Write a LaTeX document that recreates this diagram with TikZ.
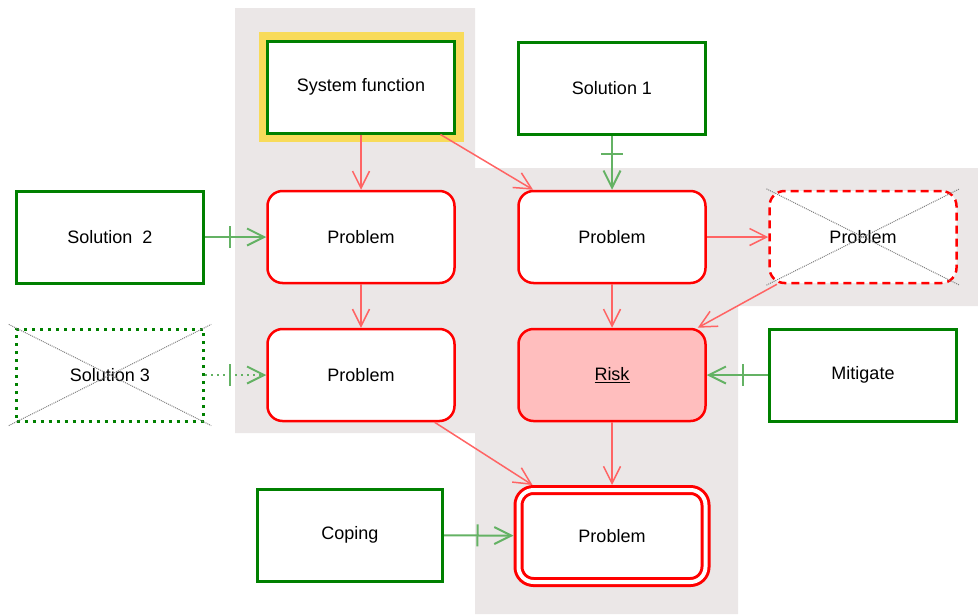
\documentclass[tikz,border=0pt]{standalone}
\usepackage{fontspec}
\setmainfont{Liberation Sans}
\usetikzlibrary{arrows.meta,decorations.markings}
\definecolor{areagray}{RGB}{235,231,231}
\definecolor{hilite}{RGB}{248,219,90}
\definecolor{boxgreen}{RGB}{0,128,0}
\definecolor{linkgreen}{RGB}{100,178,100}
\definecolor{linkred}{RGB}{255,100,100}
\definecolor{riskfill}{RGB}{255,190,190}
\begin{document}
\begin{tikzpicture}[x=1pt, y=-1pt, font=\fontsize{18}{20}\selectfont, >={Straight Barb[length=17pt,width=17pt]},
	solbox/.style={draw=boxgreen, line width=3pt, fill=white, minimum width=187pt, minimum height=92pt},
	probbox/.style={draw=red, line width=2.5pt, fill=white, rounded corners=15pt, minimum width=187pt, minimum height=92pt},
	crossout/.style={draw=gray, densely dotted, line width=1pt, shorten <=-#1, shorten >=-#1},
	redarrow/.style={->, draw=linkred, line width=1.5pt},
	greenarrow/.style={->, draw=linkgreen, line width=2pt, postaction=decorate,
		decoration={markings, mark=at position -36pt with {\draw[-, linkgreen, solid, line width=2pt] (0,-11pt)--(0,11pt);}}}]
	\useasboundingbox (0,0) rectangle (978,614);
	\fill[areagray] (235,8) -- (475,8) -- (475,168) -- (978,168) -- (978,306) -- (738,306) -- (738,614) -- (475,614) -- (475,433) -- (235,433) -- cycle;
	\node[solbox, preaction={draw=hilite, line width=18pt}] (sys) at (361,87) {System function};
	\node[solbox] (sol1) at (612,88) {Solution 1};
	\node[solbox] (sol2) at (110,237) {Solution\ \ 2};
	\node[solbox, dash pattern=on 3pt off 5pt] (sol3) at (110,375) {Solution 3};
	\node[probbox] (pa) at (361,237) {Problem};
	\node[probbox] (pb) at (612,237) {Problem};
	\node[probbox, dash pattern=on 8pt off 5pt] (pc) at (863,237) {Problem};
	\node[probbox] (pd) at (361,375) {Problem};
	\node[probbox, fill=riskfill] (risk) at (612,375) {\underline{Risk}};
	\node[solbox] (mit) at (863,375) {Mitigate};
	\node[solbox, minimum width=185pt] (cop) at (350,535) {Coping};
	\node[probbox, line width=3pt, double=white, double distance=4pt, outer sep=5pt] (pe) at (612,536) {Problem};
	\draw[crossout=7pt] (sol3.north west) -- (sol3.south east);
	\draw[crossout=7pt] (sol3.south west) -- (sol3.north east);
	\draw[crossout=2pt] (pc.north west) -- (pc.south east);
	\draw[crossout=2pt] (pc.south west) -- (pc.north east);
	\foreach \a/\b in {sys/pa, sys/pb, pa/pd, pb/pc, pb/risk, pc/risk, pd/pe, risk/pe}
		\draw[redarrow] (\a) -- (\b);
	\foreach \a/\b in {sol1/pb, sol2/pa, mit/risk, cop/pe}
		\draw[greenarrow] (\a) -- (\b);
	\draw[greenarrow, dash pattern=on 2pt off 4pt] (sol3) -- (pd);
\end{tikzpicture}
\end{document}
